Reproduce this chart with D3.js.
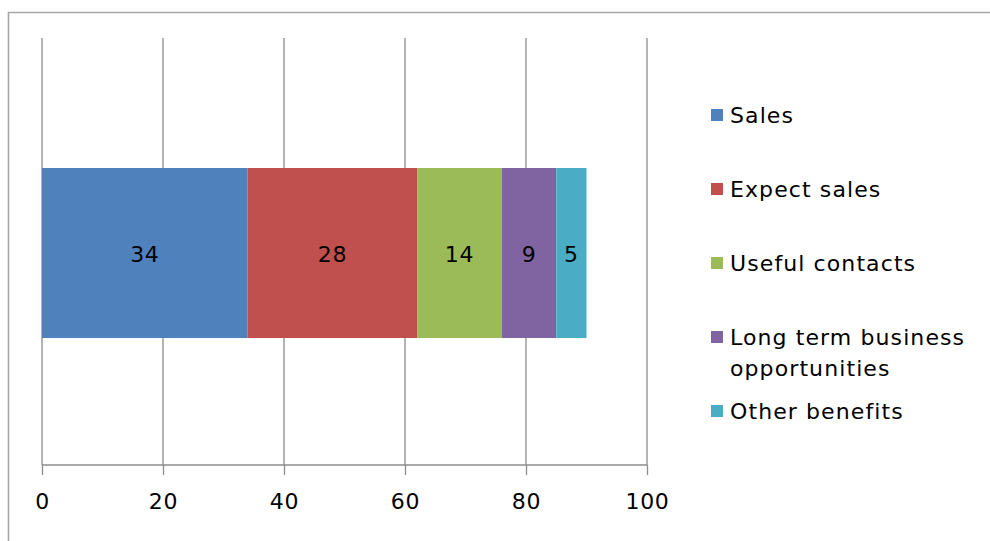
<!DOCTYPE html>
<html>
<head>
<meta charset="utf-8">
<script src="https://cdn.jsdelivr.net/npm/d3@7"></script>
<style>
  html, body { margin: 0; padding: 0; background: #fff; }
  svg { display: block; }
  text { font-family: "DejaVu Sans", Verdana, sans-serif; font-size: 22px; letter-spacing: 0.7px; fill: #000; }
  .legend text { letter-spacing: 1.1px; }
</style>
</head>
<body>
<svg id="chart" width="990" height="541"></svg>
<script>
const categories = ["Sales", "Expect sales", "Useful contacts", "Long term business opportunities", "Other benefits"];
const legendLines = [["Sales"], ["Expect sales"], ["Useful contacts"], ["Long term business", "opportunities"], ["Other benefits"]];
const values = [34, 28, 14, 9, 5];
const colors = ["#4F81BD", "#C0504D", "#9BBB59", "#8064A2", "#4BACC6"];
const tickValues = [0, 20, 40, 60, 80, 100];

const svg = d3.select("#chart");

// outer border
svg.append("path")
  .attr("d", "M8.5,541 L8.5,12.5 L990,12.5")
  .attr("fill", "none").attr("stroke", "#a6a6a6").attr("stroke-width", 1.6);

const x = d3.scaleLinear().domain([0, 100]).range([42, 647]);
const barTop = 168, barBottom = 338;

// gridlines
svg.append("g").selectAll("line").data(tickValues).join("line")
  .attr("x1", d => x(d)).attr("x2", d => x(d))
  .attr("y1", 38).attr("y2", 465)
  .attr("stroke", "#8c8c8c").attr("stroke-width", 1.3);

// stacked segments
let acc = 0;
const segs = values.map((v, i) => { const s = { start: acc, end: acc + v, v, c: colors[i] }; acc += v; return s; });

svg.append("g").selectAll("rect").data(segs).join("rect")
  .attr("x", d => x(d.start)).attr("width", d => x(d.end) - x(d.start))
  .attr("y", barTop).attr("height", barBottom - barTop)
  .attr("fill", d => d.c);

svg.append("g").selectAll("text").data(segs).join("text")
  .attr("x", d => (x(d.start) + x(d.end)) / 2)
  .attr("y", (barTop + barBottom) / 2 + 1)
  .attr("text-anchor", "middle").attr("dominant-baseline", "central")
  .text(d => d.v);

// x axis
const axis = d3.axisBottom(x).tickValues(tickValues).tickSize(10).tickPadding(18);
const ag = svg.append("g").attr("transform", "translate(0,465)").call(axis);
ag.select(".domain").attr("stroke", "#8c8c8c").attr("stroke-width", 1.3).attr("d", `M${x(0)},0H${x(100)}`);
ag.selectAll(".tick line").attr("stroke", "#8c8c8c").attr("stroke-width", 1.3);
ag.selectAll(".tick text").attr("font-family", null).attr("font-size", null).style("font-size", "22px").attr("fill", "#000");

// legend
const legendY = [115, 189, 263, 337, 411];
const lg = svg.append("g").attr("class", "legend").selectAll("g").data(categories).join("g")
  .attr("transform", (d, i) => `translate(711,${legendY[i]})`);
lg.append("rect").attr("x", 0).attr("y", -6).attr("width", 12).attr("height", 12)
  .attr("fill", (d, i) => colors[i]);
lg.each(function(d, i) {
  const t = d3.select(this).append("text").attr("x", 19).attr("y", 0).attr("dominant-baseline", "central");
  legendLines[i].forEach((line, j) => {
    t.append("tspan").attr("x", 19).attr("dy", j === 0 ? 0 : 31).text(line);
  });
});
</script>
</body>
</html>
